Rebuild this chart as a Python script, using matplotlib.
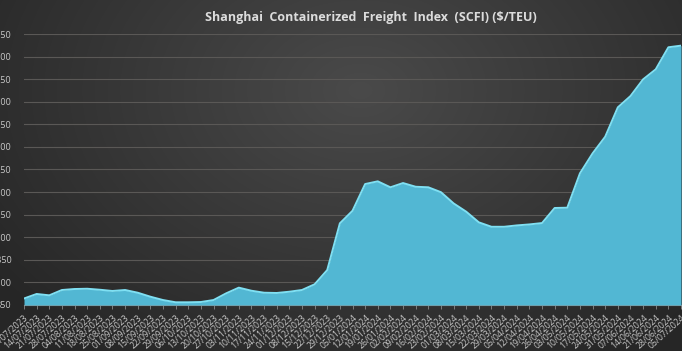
import numpy as np
import matplotlib
matplotlib.use("Agg")
import matplotlib.pyplot as plt

# weekly SCFI values
dates = ["07/07/2023", "14/07/2023", "21/07/2023", "28/07/2023", "04/08/2023", "11/08/2023",
         "18/08/2023", "25/08/2023", "01/09/2023", "08/09/2023", "15/09/2023", "22/09/2023",
         "29/09/2023", "06/10/2023", "13/10/2023", "20/10/2023", "27/10/2023", "03/11/2023",
         "10/11/2023", "17/11/2023", "24/11/2023", "01/12/2023", "08/12/2023", "15/12/2023",
         "22/12/2023", "29/12/2023", "05/01/2024", "12/01/2024", "19/01/2024", "26/01/2024",
         "02/02/2024", "09/02/2024", "16/02/2024", "23/02/2024", "01/03/2024", "08/03/2024",
         "15/03/2024", "22/03/2024", "29/03/2024", "05/04/2024", "12/04/2024", "19/04/2024",
         "26/04/2024", "03/05/2024", "10/05/2024", "17/05/2024", "24/05/2024", "31/05/2024",
         "07/06/2024", "14/06/2024", "21/06/2024", "28/06/2024", "05/07/2024"]
scfi = [922, 972, 957, 1016, 1027, 1030, 1019, 1005, 1016, 986, 942, 905,
        880, 880, 883, 905, 979, 1042, 1008, 986, 983, 997, 1016, 1079,
        1237, 1754, 1893, 2189, 2219, 2153, 2200, 2159, 2153, 2099, 1975, 1883,
        1765, 1716, 1716, 1731, 1742, 1757, 1924, 1927, 2307, 2528, 2713, 3038,
        3163, 3348, 3459, 3703, 3721]
yticks = list(range(850, 3851, 250))

W, H = 682, 351
fig = plt.figure(figsize=(W / 100, H / 100), dpi=100)

# dark radial background
bg = fig.add_axes([0, 0, 1, 1], zorder=-10)
yy, xx = np.mgrid[0:H, 0:W]
r = np.sqrt(((xx - 360) / 420) ** 2 + ((yy - 90) / 300) ** 2)
shade = np.clip(0.29 - 0.13 * r, 0.15, 0.29)
bg.imshow(np.dstack([shade, shade, shade]), aspect="auto", extent=[0, 1, 0, 1])
bg.axis("off")

ax = fig.add_axes([24 / W, (H - 305) / H, (681 - 24) / W, 271 / H])
ax.patch.set_alpha(0)
x = np.arange(len(scfi))
ax.fill_between(x, 850, scfi, color="#52b7d3", lw=0, zorder=3)
ax.plot(x, scfi, color="#7fe0f3", lw=1.4, zorder=4)

ax.set_xlim(0, len(scfi) - 1)
ax.set_ylim(850, 3850)
ax.set_yticks(yticks)
ax.set_yticklabels([str(v) for v in yticks], fontsize=6.5, color="#c8c8c8", family="Open Sans")
ax.yaxis.grid(True, color="#5a5856", lw=0.8, zorder=1)
ax.tick_params(axis="y", length=0, pad=9)

ax.set_xticks(x)
ax.set_xticklabels(dates, rotation=42, ha="right", rotation_mode="anchor",
                   fontsize=6.2, color="#c8c8c8", family="Open Sans")
ax.tick_params(axis="x", length=3, color="#8a8a8a", width=0.6, pad=3)
for s in ["top", "right", "left"]:
    ax.spines[s].set_visible(False)
ax.spines["bottom"].set_color("#8a8a8a")
ax.spines["bottom"].set_linewidth(0.8)

fig.text(371 / W, 1 - 17 / H, "Shanghai  Containerized  Freight  Index  (SCFI) ($/TEU)",
         ha="center", va="center", fontsize=9, fontweight="bold", color="#dcdcdc",
         family="Open Sans")

fig.savefig("out.png", dpi=100)
